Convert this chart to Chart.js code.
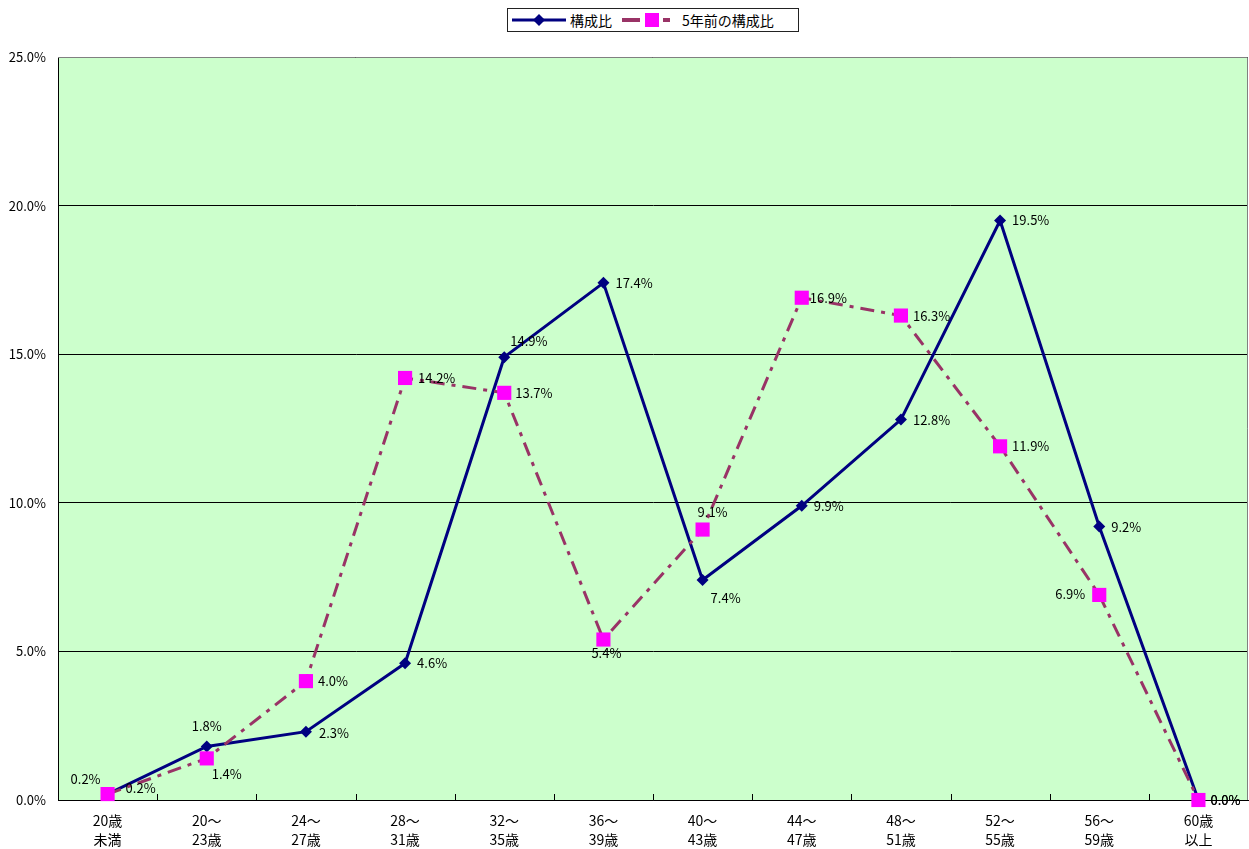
<!DOCTYPE html>
<html lang="ja">
<head>
  <meta charset="UTF-8">
  <title>構成比</title>
  <script src="https://cdn.jsdelivr.net/npm/chart.js"></script>
  <style>
    html, body {
      margin: 0;
      padding: 0;
      background: #fff;
      overflow: hidden;
      font-family: 'Noto Sans CJK JP', sans-serif;
    }
    .wrap {
      position: relative;
      width: 1249px;
      height: 849px;
    }
    .wrap canvas { display: block; }
    /* legend box at the top */
    .legend {
      position: absolute;
      left: 507px;
      top: 8px;
      width: 290px;
      height: 22px;
      border: 1px solid #222;
      background: #fff;
      display: flex;
      align-items: center;
      font-size: 14px;
      color: #000;
      box-sizing: content-box;
    }
    .legend svg { display: block; }
  </style>
</head>
<body>
  <div class="wrap">
    <canvas id="ageChart" width="1249" height="849"></canvas>
    <div class="legend">
      <svg width="58" height="22" style="margin-left:4px">
        <line x1="0" y1="11" x2="54" y2="11" stroke="#000080" stroke-width="3"/>
        <polygon points="27,5 33,11 27,17 21,11" fill="#000080"/>
      </svg>
      <span>構成比</span>
      <svg width="56" height="22" style="margin-left:10px">
        <line x1="0" y1="11" x2="18" y2="11" stroke="#993366" stroke-width="4"/>
        <line x1="41" y1="11" x2="48" y2="11" stroke="#993366" stroke-width="4"/>
        <rect x="23" y="4" width="14" height="14" fill="#FF00FF"/>
      </svg>
      <span style="margin-left:4px">5年前の構成比</span>
    </div>
  </div>

  <script>
    // categories (age bands)
    const ageLabels = [
      ['20歳', '未満'], ['20～', '23歳'], ['24～', '27歳'], ['28～', '31歳'],
      ['32～', '35歳'], ['36～', '39歳'], ['40～', '43歳'], ['44～', '47歳'],
      ['48～', '51歳'], ['52～', '55歳'], ['56～', '59歳'], ['60歳', '以上']
    ];

    // 構成比 (current)
    const shareNow = [0.2, 1.8, 2.3, 4.6, 14.9, 17.4, 7.4, 9.9, 12.8, 19.5, 9.2, 0.0];
    // 5年前の構成比
    const shareBefore = [0.2, 1.4, 4.0, 14.2, 13.7, 5.4, 9.1, 16.9, 16.3, 11.9, 6.9, 0.0];

    // y axis ticks
    const yMax = 25;
    const yStep = 5;

    // where each value label sits relative to its point: [dx, dy, align]
    const labelPlaceNow = [
      [-7, -15, 'right'], [0, -20, 'center'], [13, 1, 'left'], [12, 0, 'left'],
      [6, -16, 'left'], [12, 0, 'left'], [8, 18, 'left'], [12, 0, 'left'],
      [12, 0, 'left'], [12, 0, 'left'], [12, 0, 'left'], [12, 0, 'left']
    ];
    const labelPlaceBefore = [
      [18, -6, 'left'], [5, 16, 'left'], [12, 0, 'left'], [13, 0, 'left'],
      [11, 0, 'left'], [3, 14, 'center'], [10, -17, 'center'], [8, 0, 'left'],
      [12, 0, 'left'], [12, 0, 'left'], [-14, -1, 'right'], [12, 0, 'left']
    ];

    // plot background, frame and small inward x ticks
    const plotFrame = {
      id: 'plotFrame',
      beforeDraw(chart) {
        const { ctx, chartArea: a } = chart;
        ctx.save();
        ctx.fillStyle = '#CCFFCC';
        ctx.fillRect(a.left, a.top, a.right - a.left, a.bottom - a.top);
        ctx.restore();
      },
      afterDraw(chart) {
        const { ctx, chartArea: a } = chart;
        ctx.save();
        ctx.strokeStyle = '#808080';
        ctx.lineWidth = 1;
        ctx.beginPath();
        ctx.moveTo(a.left, a.top + 0.5);
        ctx.lineTo(a.right - 0.5, a.top + 0.5);
        ctx.lineTo(a.right - 0.5, a.bottom);
        ctx.stroke();
        // inward category ticks
        ctx.strokeStyle = '#000';
        const w = (a.right - a.left) / ageLabels.length;
        ctx.beginPath();
        for (let k = 1; k < ageLabels.length; k++) {
          const x = Math.round(a.left + k * w) + 0.5;
          ctx.moveTo(x, a.bottom);
          ctx.lineTo(x, a.bottom - 6);
        }
        ctx.stroke();
        ctx.restore();
      }
    };

    // value labels next to points
    const valueLabels = {
      id: 'valueLabels',
      afterDatasetsDraw(chart) {
        const { ctx } = chart;
        const places = [labelPlaceNow, labelPlaceBefore];
        ctx.save();
        ctx.font = "13px 'Noto Sans CJK JP', sans-serif";
        ctx.fillStyle = '#000';
        ctx.textBaseline = 'middle';
        chart.data.datasets.forEach((ds, di) => {
          const meta = chart.getDatasetMeta(di);
          meta.data.forEach((pt, i) => {
            const [dx, dy, align] = places[di][i];
            ctx.textAlign = align;
            ctx.fillText(ds.data[i].toFixed(1) + '%', pt.x + dx, pt.y + dy);
          });
        });
        ctx.restore();
      }
    };

    Chart.defaults.font.family = "'Noto Sans CJK JP', sans-serif";
    Chart.defaults.font.size = 13;
    Chart.defaults.color = '#000';

    const ctx = document.getElementById('ageChart').getContext('2d');
    new Chart(ctx, {
      type: 'line',
      data: {
        labels: ageLabels,
        datasets: [
          {
            label: '構成比',
            data: shareNow,
            borderColor: '#000080',
            backgroundColor: '#000080',
            borderWidth: 3,
            pointStyle: 'rectRot',
            pointRadius: 6,
            pointBorderWidth: 0,
            tension: 0,
            clip: false,
            order: 1
          },
          {
            label: '5年前の構成比',
            data: shareBefore,
            borderColor: '#993366',
            backgroundColor: '#FF00FF',
            borderWidth: 3,
            borderDash: [14, 7, 4, 7],
            pointStyle: 'rect',
            pointRadius: 10,
            pointBorderWidth: 0,
            tension: 0,
            clip: false,
            order: 0
          }
        ]
      },
      options: {
        responsive: false,
        devicePixelRatio: 1,
        animation: false,
        layout: { autoPadding: false, padding: { top: 57, right: 1, left: 0, bottom: 0 } },
        plugins: {
          legend: { display: false },
          tooltip: { enabled: false }
        },
        scales: {
          x: {
            offset: true,
            grid: { display: false, drawTicks: false },
            border: { display: true, color: '#000', width: 1 },
            ticks: {
              font: { size: 14, lineHeight: 1.3 },
              padding: 12,
              maxRotation: 0,
              autoSkip: false
            },
            afterFit(scale) {
              scale.height = 49;
              scale.paddingLeft = 0;
              scale.paddingRight = 0;
            }
          },
          y: {
            min: 0,
            max: yMax,
            grid: { color: '#000', lineWidth: 1, drawTicks: false },
            border: { display: true, color: '#000', width: 1 },
            ticks: {
              stepSize: yStep,
              padding: 12,
              callback: v => v.toFixed(1) + '%'
            },
            afterFit(scale) {
              scale.width = 58;
              scale.paddingTop = 0;
              scale.paddingBottom = 0;
            }
          }
        }
      },
      plugins: [plotFrame, valueLabels]
    });
  </script>
</body>
</html>
